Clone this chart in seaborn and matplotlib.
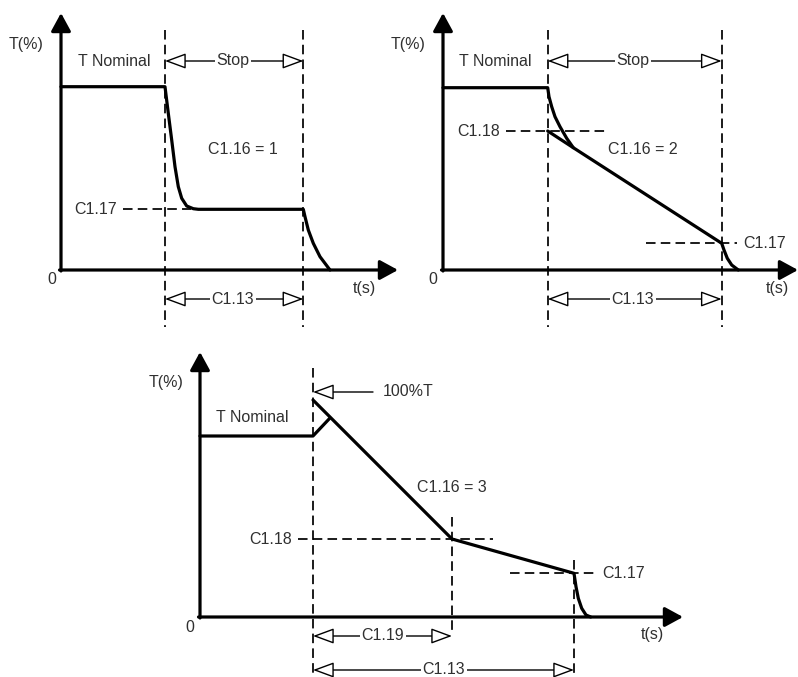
import numpy as np
import pandas as pd
import matplotlib
matplotlib.use('Agg')
import matplotlib.pyplot as plt
import seaborn as sns

sns.set_theme(style='white')
plt.rcParams['font.family'] = ['Liberation Sans', 'DejaVu Sans']

# ---------------- data (time units / torque units, origin at axis corner) -------------
# Diagram 1 : C1.16 = 1
d1_t = [0, 104, 107.3, 110.7, 114, 117.3, 120.7, 125.7, 132.3, 137.3,
        242.3, 244, 247.3, 252.3, 259, 269]
d1_T = [183.3, 183.3, 156.7, 130, 103.3, 83.3, 71.7, 64, 61.3, 60.7,
        60.7, 53.3, 40, 26.7, 13.3, 0]
d1_marks = [104, 242.3]
d1_C117 = 60.7

# Diagram 2 : C1.16 = 2
d2_t_a = [0, 104.7, 106, 108.7, 112, 117, 123.7, 130.3, 278.7, 281, 284.3, 288.7, 295.3]
d2_T_a = [182.3, 182.3, 173.3, 163.3, 153.3, 143.3, 131.7, 122.3, 26.7, 20, 11.7, 5, 0]
d2_t_b = [104.7, 130.3]
d2_T_b = [139, 122.3]
d2_marks = [104.7, 278.7]
d2_C118 = 139
d2_C117 = 26.7

# Diagram 3 : C1.16 = 3
d3_t_a = [0, 113, 130]
d3_T_a = [181, 181, 199]
d3_t_b = [113, 252, 374, 376, 378.3, 381.7, 386, 390.7]
d3_T_b = [217, 78, 43.7, 30.3, 18.7, 8.7, 2, 0]
d3_marks = [113, 252, 374]
d3_C118 = 78
d3_C117 = 43.7
d3_100T = 217

FS = 11.5
LW = 2.3
TXT = '#303030'
DASH = dict(color='black', lw=1.25, ls=(0, (5.5, 3)), clip_on=False)

W, H = 798, 677
fig = plt.figure(figsize=(W / 100, H / 100), dpi=100)
fig.patch.set_facecolor('white')


def make_ax(px0, py0, px1, py1, ox, oy):
    ax = fig.add_axes([px0 / W, (H - py1) / H, (px1 - px0) / W, (py1 - py0) / H])
    ax.set_xlim(px0 - ox, px1 - ox)
    ax.set_ylim(oy - py1, oy - py0)
    ax.axis('off')
    return ax


def curve(ax, t, T):
    df = pd.DataFrame({'t': t, 'T': T})
    sns.lineplot(data=df, x='t', y='T', ax=ax, sort=False, estimator=None,
                 color='black', lw=LW, clip_on=False)
    for l in ax.lines:
        l.set_solid_joinstyle('round')


def axes_arrows(ax, xmax, ymax):
    kw = dict(arrowstyle='-|>,head_length=1.1,head_width=0.6', mutation_scale=10,
              fc='black', ec='black', lw=LW, shrinkA=0, shrinkB=0)
    ax.annotate('', xy=(0, ymax), xytext=(0, -1), arrowprops=kw, annotation_clip=False)
    ax.annotate('', xy=(xmax, 0), xytext=(-1.5, 0), arrowprops=kw, annotation_clip=False)


def dim_arrow(ax, x0, x1, y, label, xc):
    ax.annotate('', xy=(x0, y), xytext=(x1, y), annotation_clip=False,
                arrowprops=dict(arrowstyle='<|-|>,head_length=1.3,head_width=0.48',
                                mutation_scale=10, fc='white', ec='black', lw=1.0,
                                shrinkA=0, shrinkB=0))
    ax.text(xc, y, label, ha='center', va='center', fontsize=FS, color=TXT,
            bbox=dict(fc='white', ec='none', pad=1.0))


def label(ax, x, y, s, ha='center'):
    ax.text(x, y, s, ha=ha, va='center', fontsize=FS, color=TXT)


# ---------------- Diagram 1 ----------------
ax1 = make_ax(0, 0, 400, 340, 61, 270)
for m in d1_marks:
    ax1.plot([m, m], [240, -57], **DASH)
ax1.plot([62, 130], [d1_C117, d1_C117], **DASH)
curve(ax1, d1_t, d1_T)
axes_arrows(ax1, 337, 257)
dim_arrow(ax1, d1_marks[0], d1_marks[1], 209, 'Stop', 172)
dim_arrow(ax1, d1_marks[0], d1_marks[1], -29, 'C1.13', 172)
label(ax1, -35, 225, 'T(%)')
label(ax1, 53, 208, 'T Nominal')
label(ax1, 182, 120, 'C1.16 = 1')
label(ax1, 56, d1_C117, 'C1.17', ha='right')
label(ax1, -9, -10, '0')
label(ax1, 303, -18, 't(s)')

# ---------------- Diagram 2 ----------------
ax2 = make_ax(400, 0, 798, 340, 443, 270)
for m in d2_marks:
    ax2.plot([m, m], [240, -57], **DASH)
ax2.plot([63, 165], [d2_C118, d2_C118], **DASH)
ax2.plot([203, 294], [d2_C117, d2_C117], **DASH)
curve(ax2, d2_t_a, d2_T_a)
curve(ax2, d2_t_b, d2_T_b)
axes_arrows(ax2, 355, 257)
dim_arrow(ax2, d2_marks[0], d2_marks[1], 209, 'Stop', 190)
dim_arrow(ax2, d2_marks[0], d2_marks[1], -29, 'C1.13', 190)
label(ax2, -35, 225, 'T(%)')
label(ax2, 52, 208, 'T Nominal')
label(ax2, 200, 120, 'C1.16 = 2')
label(ax2, 57, d2_C118, 'C1.18', ha='right')
label(ax2, 300, d2_C117, 'C1.17', ha='left')
label(ax2, -10, -10, '0')
label(ax2, 334, -18, 't(s)')

# ---------------- Diagram 3 ----------------
ax3 = make_ax(150, 340, 710, 677, 200, 617)
ax3.plot([d3_marks[0]] * 2, [249, -60], **DASH)
ax3.plot([d3_marks[1]] * 2, [100, -18], **DASH)
ax3.plot([d3_marks[2]] * 2, [57, -60], **DASH)
ax3.plot([98, 293], [d3_C118, d3_C118], **DASH)
ax3.plot([310, 398], [d3_C117, d3_C117], **DASH)
curve(ax3, d3_t_a, d3_T_a)
curve(ax3, d3_t_b, d3_T_b)
axes_arrows(ax3, 483, 265)
dim_arrow(ax3, d3_marks[0], d3_marks[1], -19, 'C1.19', 183)
dim_arrow(ax3, d3_marks[0], d3_marks[2], -53, 'C1.13', 244)
ax3.annotate('', xy=(d3_marks[0], 225), xytext=(173, 225), annotation_clip=False,
             arrowprops=dict(arrowstyle='-|>,head_length=1.3,head_width=0.48',
                             mutation_scale=10, fc='white', ec='black', lw=1.0,
                             shrinkA=0, shrinkB=0))
label(ax3, 183, 225, '100%T', ha='left')
label(ax3, -34, 234, 'T(%)')
label(ax3, 52, 199, 'T Nominal')
label(ax3, 252, 129, 'C1.16 = 3')
label(ax3, 92, d3_C118, 'C1.18', ha='right')
label(ax3, 402, d3_C117, 'C1.17', ha='left')
label(ax3, -10, -10, '0')
label(ax3, 452, -18, 't(s)')

fig.savefig('out.png', dpi=100, facecolor='white')
